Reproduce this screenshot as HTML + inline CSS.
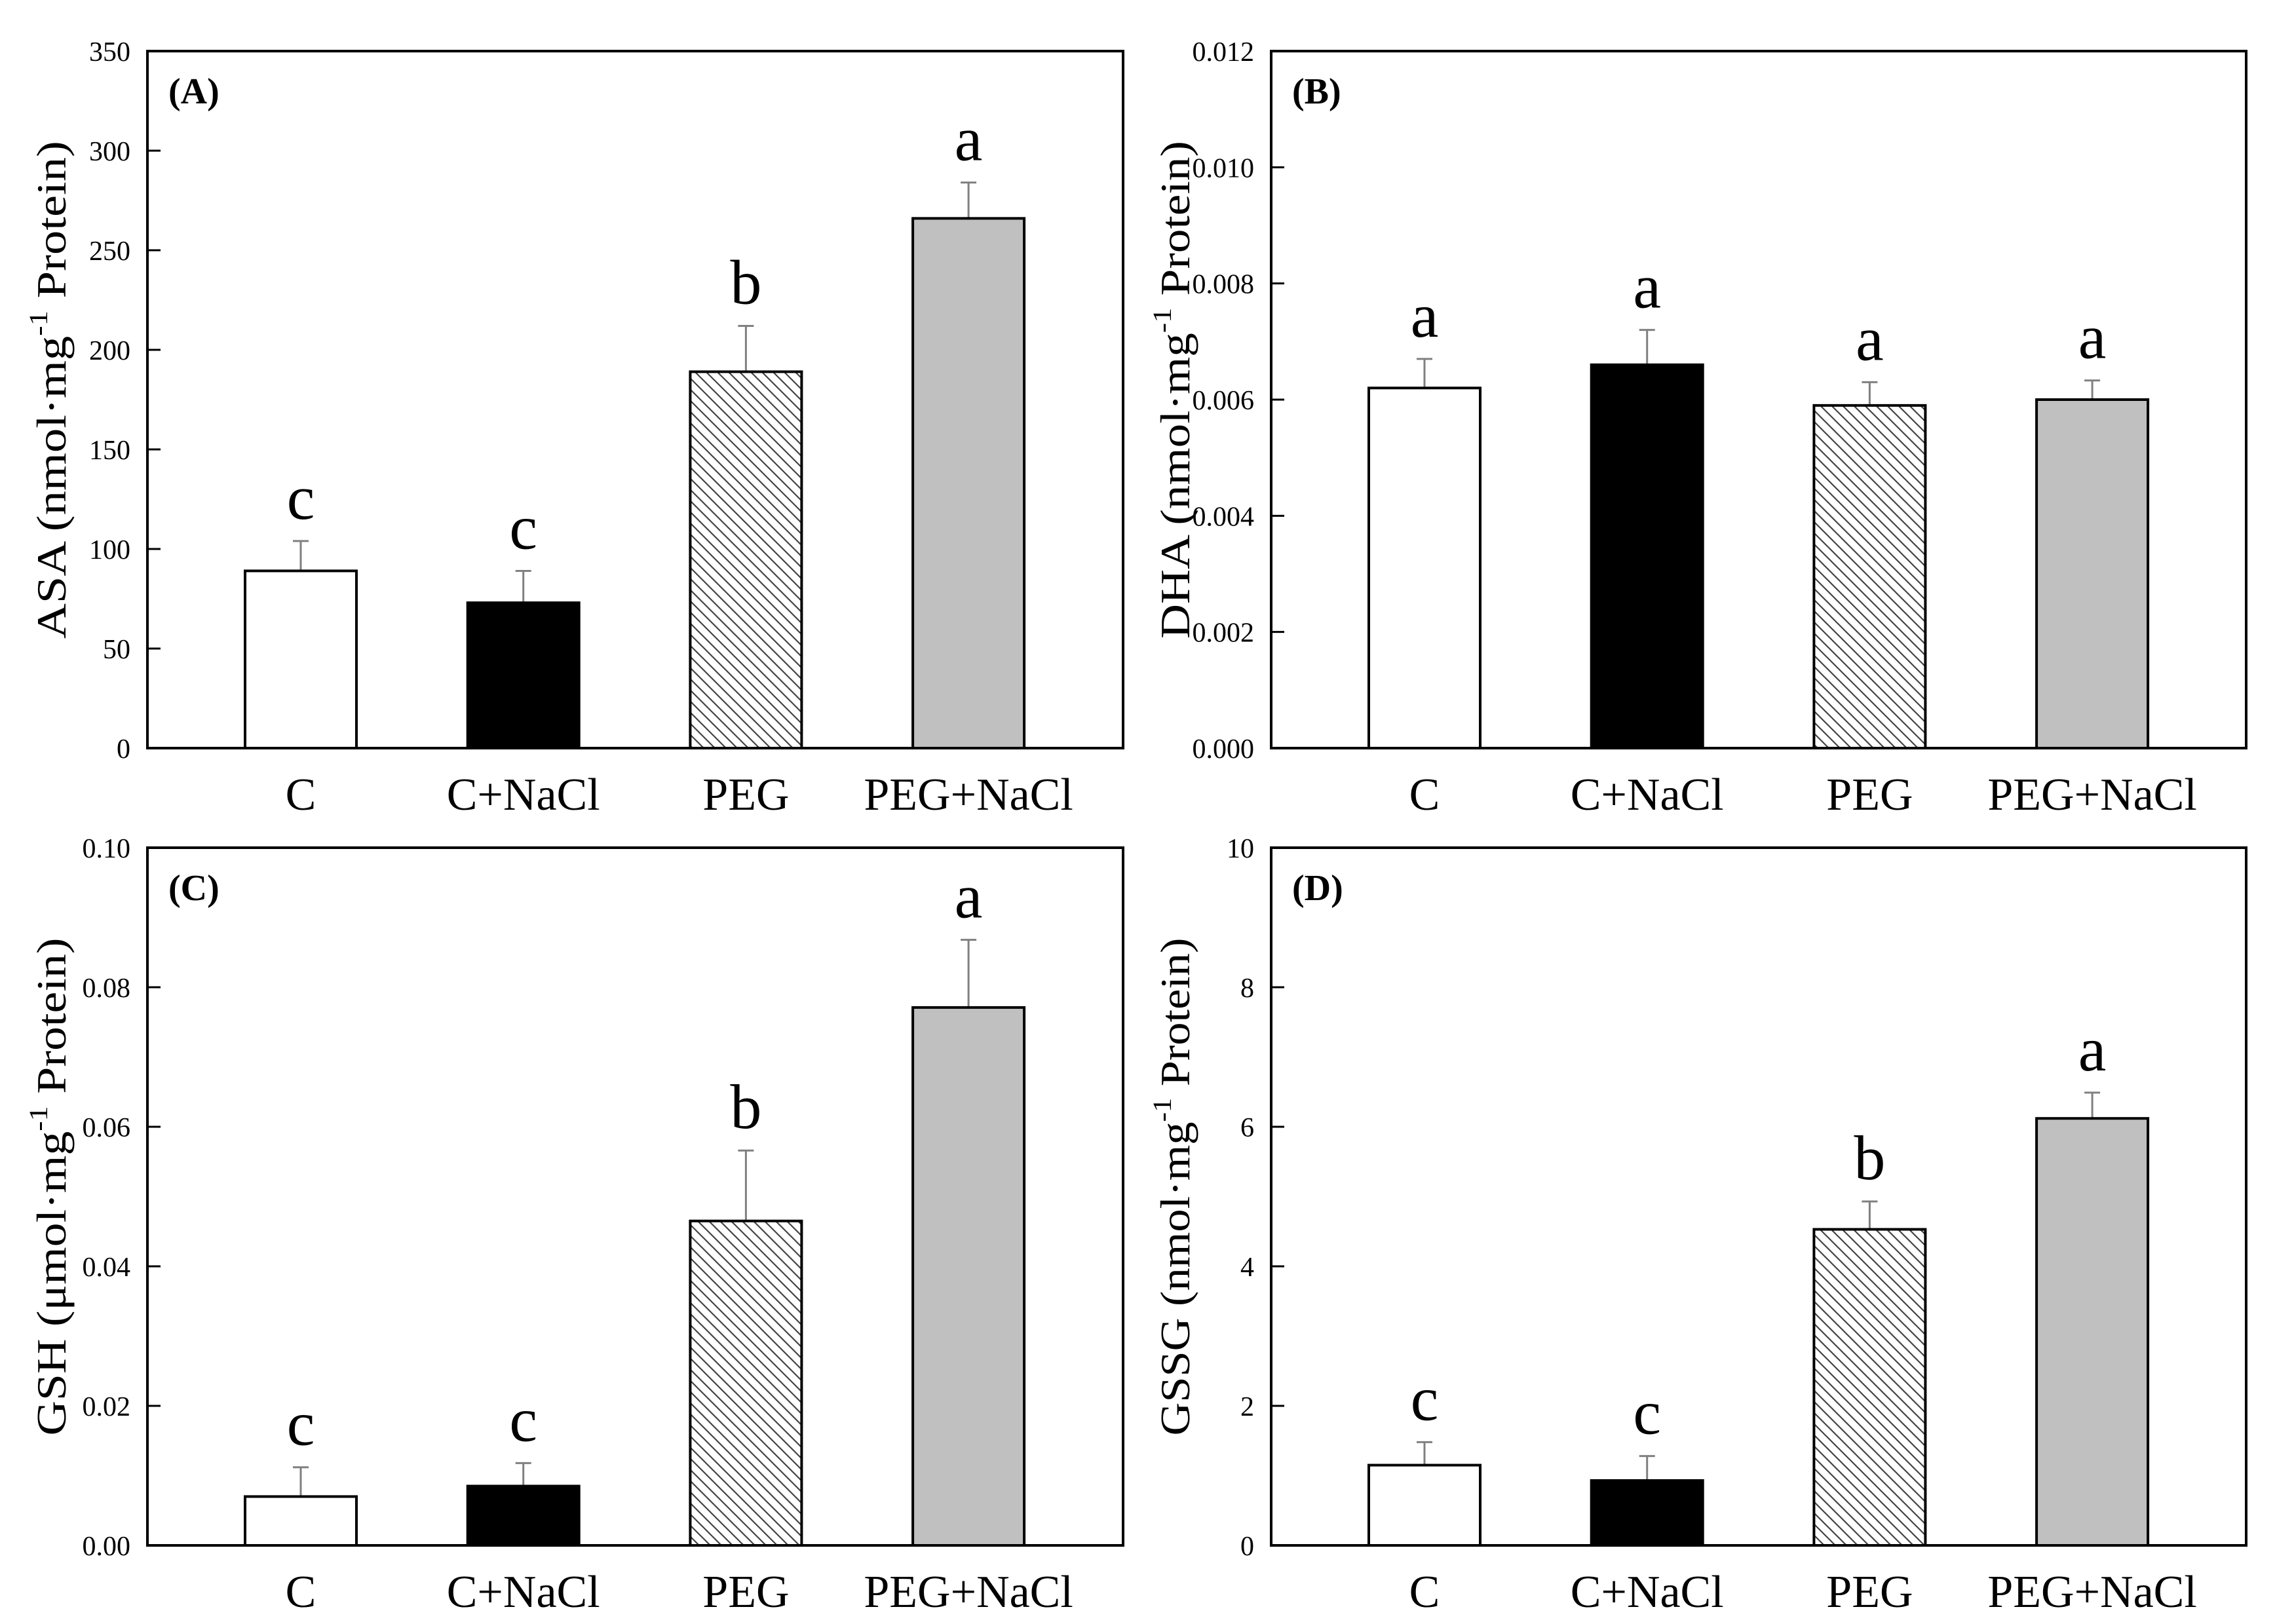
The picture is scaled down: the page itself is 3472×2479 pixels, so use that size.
<!DOCTYPE html>
<html><head><meta charset="utf-8">
<style>
html,body{margin:0;padding:0;background:#fff;}
svg{display:block;}
text{font-family:"Liberation Serif","Times New Roman",serif;fill:#000;}
</style></head>
<body>
<svg id="fig" width="3472" height="2479" viewBox="0 0 3472 2479" xmlns="http://www.w3.org/2000/svg">
<defs>
<pattern id="hatch" patternUnits="userSpaceOnUse" width="17" height="17">
<rect width="17" height="17" fill="#fff"/>
<path d="M-4,-4 L21,21 M-4,13 L4,21 M13,-4 L21,4" stroke="#444" stroke-width="2.2"/>
</pattern>
</defs>
</svg>
<script>
const categories = ["C", "C+NaCl", "PEG", "PEG+NaCl"];
const asaValues = [89, 73, 189, 266];
const asaErrors = [15, 16, 23, 18];
const asaLetters = ["c", "c", "b", "a"];
const asaTicks = ["0", "50", "100", "150", "200", "250", "300", "350"];
const dhaValues = [0.0062, 0.0066, 0.0059, 0.0060];
const dhaErrors = [0.0005, 0.0006, 0.0004, 0.00033];
const dhaLetters = ["a", "a", "a", "a"];
const dhaTicks = ["0.000", "0.002", "0.004", "0.006", "0.008", "0.010", "0.012"];
const gshValues = [0.0070, 0.0085, 0.0465, 0.0771];
const gshErrors = [0.0042, 0.0033, 0.0101, 0.0097];
const gshLetters = ["c", "c", "b", "a"];
const gshTicks = ["0.00", "0.02", "0.04", "0.06", "0.08", "0.10"];
const gssgValues = [1.15, 0.93, 4.53, 6.12];
const gssgErrors = [0.33, 0.35, 0.40, 0.37];
const gssgLetters = ["c", "c", "b", "a"];
const gssgTicks = ["0", "2", "4", "6", "8", "10"];

const NS = "http://www.w3.org/2000/svg";
const svg = document.getElementById('fig');
function mk(tag, attrs, parent){ const e=document.createElementNS(NS,tag); for(const k in attrs) e.setAttribute(k,attrs[k]); (parent||svg).appendChild(e); return e; }
const fills = ["#ffffff", "#000000", "url(#hatch)", "#c0c0c0"];

const panels = [
  {id:"a", label:"(A)", x0:225, x1:1714, y0:78, y1:1142, ymax:350, ticks:asaTicks, vals:asaValues, errs:asaErrors, letters:asaLetters, title:["ASA (nmol·mg","-1"," Protein)"]},
  {id:"b", label:"(B)", x0:1940, x1:3428, y0:78, y1:1142, ymax:0.012, ticks:dhaTicks, vals:dhaValues, errs:dhaErrors, letters:dhaLetters, title:["DHA (nmol·mg","-1"," Protein)"]},
  {id:"c", label:"(C)", x0:225, x1:1714, y0:1294, y1:2359, ymax:0.10, ticks:gshTicks, vals:gshValues, errs:gshErrors, letters:gshLetters, title:["GSH (μmol·mg","-1"," Protein)"]},
  {id:"d", label:"(D)", x0:1940, x1:3428, y0:1294, y1:2359, ymax:10, ticks:gssgTicks, vals:gssgValues, errs:gssgErrors, letters:gssgLetters, title:["GSSG (nmol·mg","-1"," Protein)"]}
];

panels.forEach(p=>{
  const g = mk('g',{});
  
  
  const yS = v => p.y1 - v/p.ymax*(p.y1-p.y0);
  const xS = i => p.x0 + 234 + i*339.7;
  const bw = 170;
  p.ticks.forEach((t,i)=>{
    const v = p.ymax*i/(p.ticks.length-1);
    const y = yS(v);
    const tk = mk('line',{x1:p.x0,x2:p.x0+20,y1:y,y2:y,stroke:'#000','stroke-width':3},g);
    
    
    const tl = mk('text',{x:p.x0-26,y:y+15,'text-anchor':'end','font-size':42},g);
    
    
    tl.textContent = t;
  });
  p.vals.forEach((v,i)=>{
    const cx = xS(i), top = yS(v), et = yS(v+p.errs[i]);
    const el = mk('line',{x1:cx,x2:cx,y1:top,y2:et,stroke:'#808080','stroke-width':3},g);
    
    
    const cap = mk('line',{x1:cx-12,x2:cx+12,y1:et,y2:et,stroke:'#808080','stroke-width':3},g);
    
    
    const r = mk('rect',{x:cx-bw/2,y:top,width:bw,height:p.y1-top,fill:fills[i],stroke:'#000','stroke-width':4},g);
    
    
    const lt = mk('text',{x:cx,y:et-34,'text-anchor':'middle','font-size':96},g);
    
    
    lt.textContent = p.letters[i];
    const xl = mk('text',{x:cx,y:p.y1+94,'text-anchor':'middle','font-size':70},g);
    
    
    xl.textContent = categories[i];
  });
  const fr = mk('rect',{x:p.x0,y:p.y0,width:p.x1-p.x0,height:p.y1-p.y0,fill:'none',stroke:'#000','stroke-width':4},g);
  
  
  const pl = mk('text',{x:p.x0+32,y:p.y0+80,'font-size':56,'font-weight':'bold'},g);
  
  
  pl.textContent = p.label;
  const cy = (p.y0+p.y1)/2 - 15;
  const tx = p.x0-125;
  const tt = mk('text',{x:0,y:0,'text-anchor':'middle','font-size':64,transform:`translate(${tx},${cy}) rotate(-90)`,textLength:760,lengthAdjust:'spacingAndGlyphs'},g);
  
  
  const s1 = mk('tspan',{},tt); s1.textContent = p.title[0];
  const s2 = mk('tspan',{'font-size':40,dy:-28},tt); s2.textContent = p.title[1];
  const s3 = mk('tspan',{dy:28},tt); s3.textContent = p.title[2];
});
</script>
</body></html>
